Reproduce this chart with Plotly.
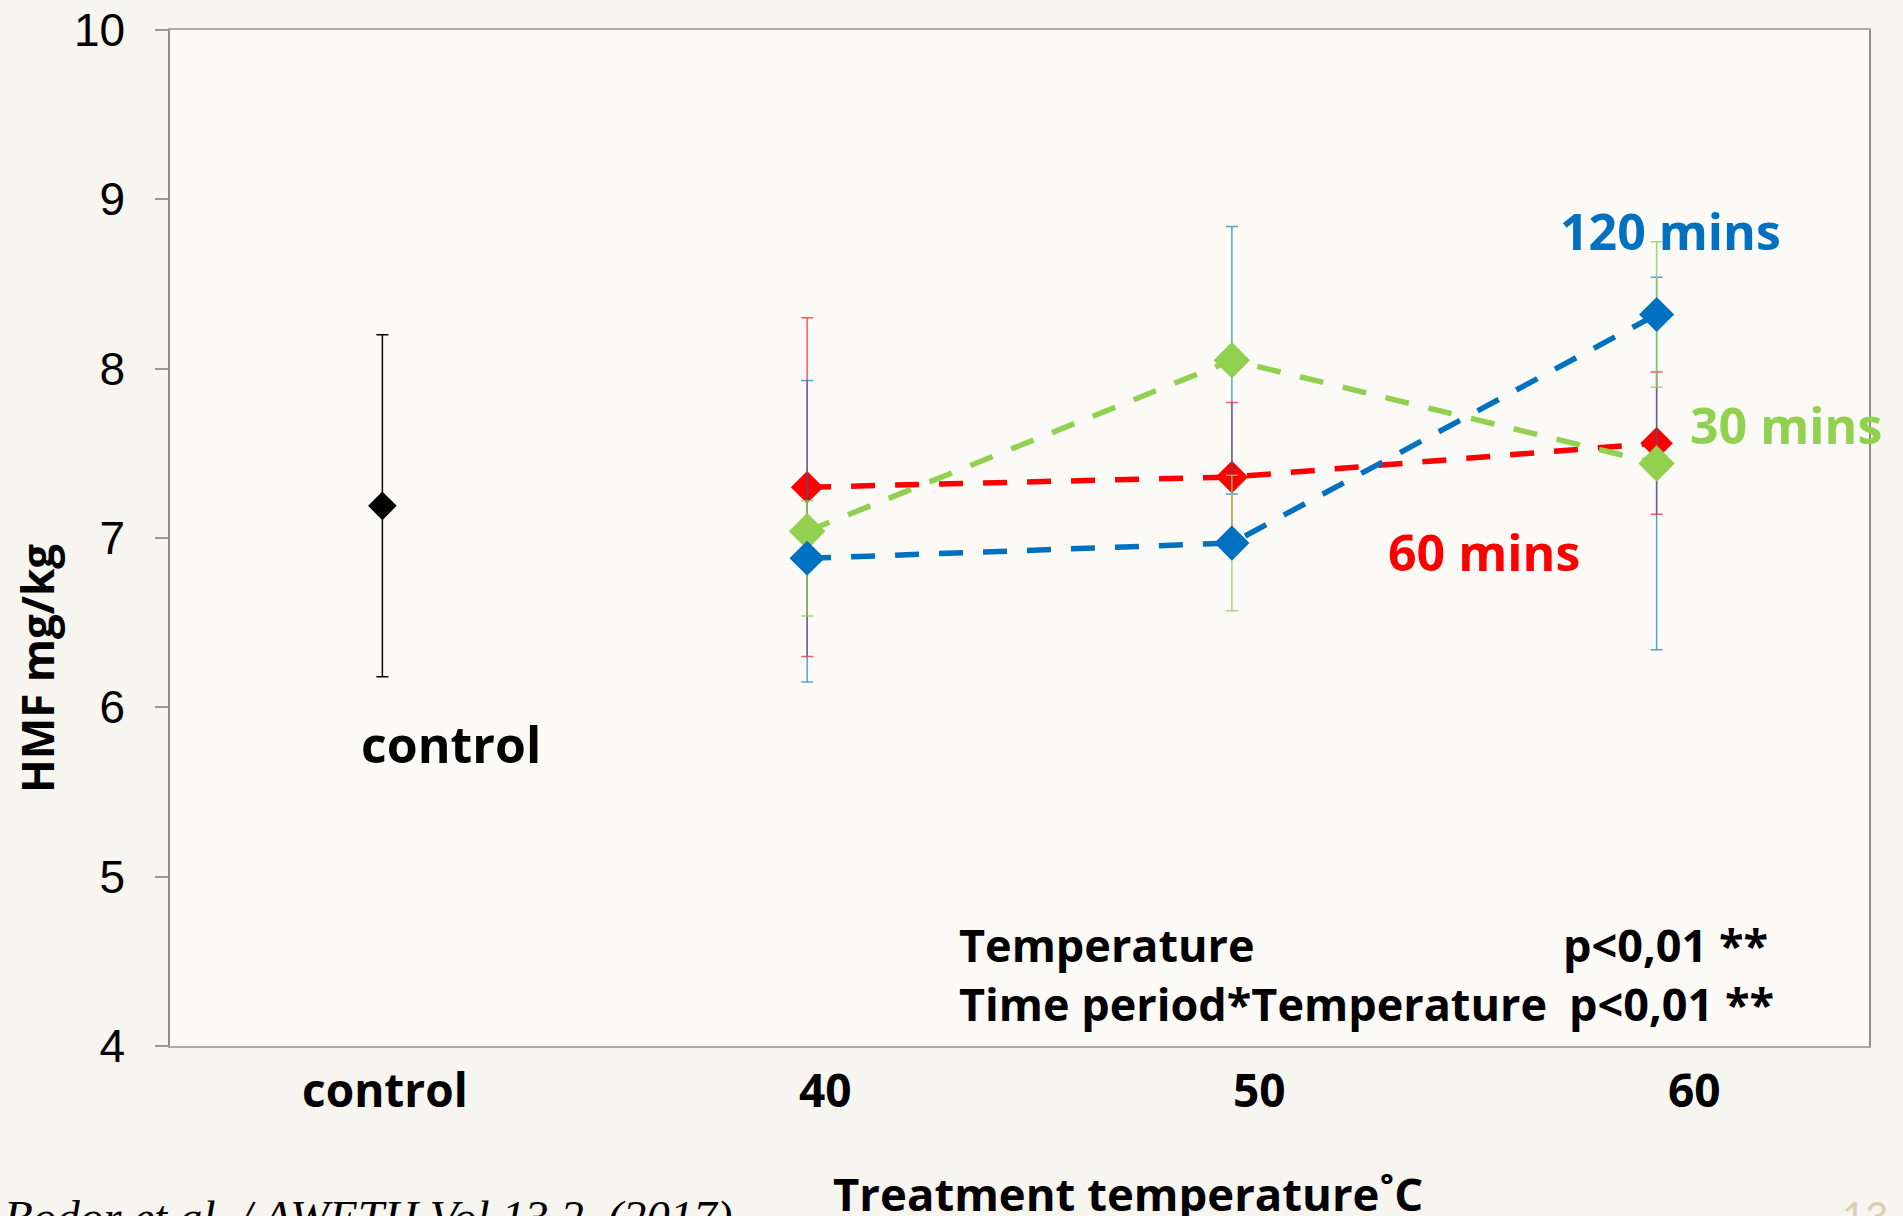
import plotly.graph_objects as go

# Categories on the x axis
categories = ["control", "40", "50", "60"]
temps = ["40", "50", "60"]

# HMF content (mg/kg), means and error half-widths
control_mean = [7.19]
control_err = [1.01]

hmf_60min = [7.30, 7.36, 7.56]
err_60min = [1.00, 0.44, 0.42]

hmf_30min = [7.04, 8.05, 7.44]
err_30min = [0.89, 0.79, 1.10]

hmf_120min = [6.88, 6.97, 8.32]
err_120min = [0.34, 0.40, 0.43]

y_ticks = [4, 5, 6, 7, 8, 9, 10]

RED = "#FF0000"
GREEN = "#92D050"
BLUE = "#0070C0"

W, H = 1903, 1216
L, R, T, B = 170, 34, 30, 170


def px(x):
    return (x - L) / (W - L - R)


def py(y):
    return (H - B - y) / (H - T - B)


fig = go.Figure()

fig.add_trace(go.Scatter(
    x=["control"], y=control_mean, mode="markers",
    marker=dict(symbol="diamond", size=22, color="black"),
    error_y=dict(type="data", array=control_err, color="black", thickness=1.5, width=6),
    showlegend=False,
))

series = [
    (hmf_60min, err_60min, RED, "rgba(255,0,0,0.65)", 25),
    (hmf_30min, err_30min, GREEN, "rgba(0,112,192,0.65)", 28),
    (hmf_120min, err_120min, BLUE, "rgba(146,208,80,0.8)", 27),
]
for vals, errs, col, ecol, msize in series:
    fig.add_trace(go.Scatter(
        x=temps, y=vals, mode="lines+markers",
        line=dict(color=col, width=5.5, dash="24px,20px"),
        marker=dict(symbol="diamond", size=msize, color=col),
        error_y=dict(type="data", array=errs, color=ecol, thickness=1.5, width=6),
        showlegend=False,
    ))

bold = "'Open Sans', Lato, sans-serif"
ann = []


def text(s, x, y, size, color="black", xanchor="left", yanchor="middle", family=bold, angle=0):
    ann.append(dict(text=s, x=px(x), y=py(y), xref="paper", yref="paper",
                    xanchor=xanchor, yanchor=yanchor, showarrow=False, textangle=angle,
                    font=dict(family=family, size=size, color=color)))


# Series labels
text("<b>120 mins</b>", 1558, 231, 50, BLUE)
text("<b>30 mins</b>", 1688, 425, 50, GREEN)
text("<b>60 mins</b>", 1386, 552, 50, RED)
text("<b>control</b>", 451, 744, 50, xanchor="center")

# Statistics
text("<b>Temperature</b>", 957, 944, 45)
text("<b>p<0,01 **</b>", 1561, 944, 45)
text("<b>Time period*Temperature</b>", 957, 1003, 45)
text("<b>p<0,01 **</b>", 1567, 1003, 45)

# Category labels under the axis
label_x = [385, 825, 1259, 1694]
for lab, lx in zip(categories, label_x):
    text("<b>%s</b>" % lab, lx, 1089, 46, xanchor="center")

# Axis titles
text("<b>Treatment temperature˚C</b>", 831, 1193, 45.5)
text("<b>HMF mg/kg</b>", 37, 669, 44, xanchor="center", angle=-90)

# Source and page number
text("<i>Bodor et al. / AWETH Vol.13.2. (2017)</i>", 2, 1189, 47, yanchor="top",
     family="'Liberation Serif', 'Times New Roman', serif")
text("13", 1840, 1190, 40, color="#D9CFB2", yanchor="top", family="Lato, sans-serif")

fig.update_layout(
    width=W, height=H,
    margin=dict(l=L, r=R, t=T, b=B, autoexpand=False),
    paper_bgcolor="#F7F5F0",
    plot_bgcolor="#FBFAF7",
    annotations=ann,
    xaxis=dict(
        type="category", categoryorder="array", categoryarray=categories,
        range=[-0.5, 3.5], showticklabels=False, ticks="", automargin=False,
        showline=True, linecolor="#ABABAB", linewidth=2, mirror=True,
        showgrid=False, zeroline=False,
    ),
    yaxis=dict(
        range=[4, 10], tickvals=y_ticks, ticks="outside", ticklen=13,
        tickcolor="#999999", tickwidth=1.5, automargin=False,
        ticklabeloverflow="allow",
        showline=True, linecolor="#8C8C8C", linewidth=1.5, mirror=True,
        showgrid=False, zeroline=False, ticklabelstandoff=21,
        tickfont=dict(family="'Liberation Sans Narrow', 'Arial Narrow', 'Liberation Sans', sans-serif",
                      size=46, color="black"),
    ),
    yaxis2=dict(
        range=[4, 10], tickvals=y_ticks, ticks="inside", ticklen=13,
        tickcolor="#999999", tickwidth=1.5, overlaying="y", side="left",
        automargin=False,
        showticklabels=False, showline=False, showgrid=False, zeroline=False,
    ),
)

fig.write_html("out.html")
